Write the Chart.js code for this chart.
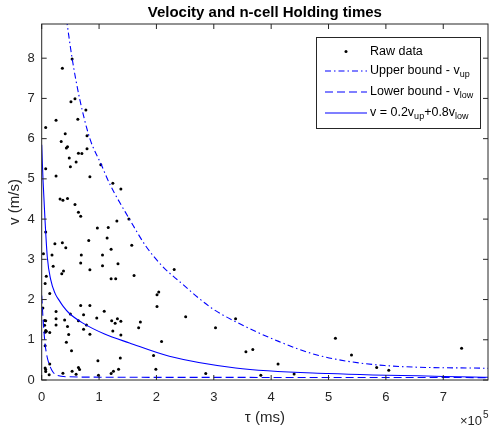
<!DOCTYPE html>
<html>
<head>
<meta charset="utf-8">
<script src="https://cdn.jsdelivr.net/npm/chart.js@4"></script>
<style>
  body { margin: 0; background: #fff; }
  #wrap { width: 492px; height: 427px; }
</style>
</head>
<body>
<div id="wrap"><canvas id="velChart" width="492" height="427"></canvas></div>
<script>
// tau is given in units of 10^5 ms (the axis multiplier shown bottom right)
const rawTau = [0.53,0.36,0.51,0.58,0.77,0.63,0.25,0.07,0.41,0.79,0.34,0.45,0.43,0.79,0.64,0.70,0.48,0.60,0.50,0.07,
  1.03,0.25,0.84,1.24,1.38,0.32,0.37,0.45,0.58,0.64,0.68,1.31,1.52,0.97,1.16,0.07,0.82,1.14,0.23,0.36,
  0.42,1.21,1.57,0.03,0.18,0.69,1.06,0.68,1.33,0.20,1.06,0.84,0.38,0.35,2.31,0.08,1.61,1.21,1.29,0.06,
  2.04,2.01,0.14,0.02,0.68,0.84,2.01,0.25,0.25,0.25,0.05,0.07,0.05,0.07,0.06,0.14,0.40,0.50,0.73,0.64,
  0.78,0.73,0.84,0.45,0.47,0.43,0.52,0.96,1.09,1.22,1.28,1.32,1.38,1.24,1.38,1.72,1.69,2.09,0.06,0.14,
  0.07,0.07,0.13,0.37,0.53,0.64,0.66,0.60,0.98,0.99,1.21,1.25,1.34,1.37,1.95,1.99,2.51,3.38,3.03,3.56,
  3.68,4.12,2.86,3.82,4.40,5.12,5.40,7.32,5.84,6.05,0.06,0.08];
const rawV = [7.98,7.75,6.92,6.99,6.71,6.48,6.46,6.28,6.12,6.07,5.93,5.80,5.77,5.75,5.64,5.63,5.52,5.42,5.30,5.25,
  5.35,5.07,5.05,4.89,4.75,4.50,4.47,4.51,4.36,4.17,4.07,3.95,4.00,3.78,3.79,3.68,3.47,3.53,3.39,3.41,
  3.29,3.25,3.35,3.14,3.11,3.11,3.11,2.91,2.89,2.83,2.84,2.74,2.71,2.64,2.75,2.58,2.60,2.52,2.52,2.40,
  2.19,2.12,2.15,1.79,1.85,1.85,1.83,1.70,1.52,1.37,1.48,1.47,1.36,1.23,1.19,1.18,1.49,1.64,1.62,1.47,
  1.37,1.26,1.14,1.33,1.13,0.94,0.73,1.54,1.71,1.47,1.41,1.52,1.46,1.22,1.12,1.44,1.30,0.96,0.85,0.40,
  0.26,0.21,0.13,0.17,0.22,0.31,0.26,0.14,0.48,0.12,0.16,0.22,0.27,0.55,0.61,0.27,1.57,1.52,1.30,0.70,
  0.76,0.40,0.16,0.12,0.15,1.04,0.62,0.79,0.31,0.24,0.30,1.21];

const upTau = [0.40,0.53,0.66,0.84,1.04,1.18,1.53,1.82,2.11,2.40,2.96,3.38,4.13,4.83,5.98,7.78];
const upV   = [9.30,8.00,7.00,6.00,5.35,4.89,4.00,3.32,2.82,2.45,1.79,1.45,0.96,0.61,0.36,0.29];

const lowTau = [0,0.028,0.057,0.092,0.12,0.19,0.28,0.47,1.0,3.0,7.78];
const lowV   = [2.10,1.42,0.92,0.59,0.44,0.21,0.11,0.08,0.07,0.065,0.06];

const mixTau = [0,0.01,0.023,0.057,0.098,0.156,0.231,0.305,0.375,0.479,0.711,1.086,1.53,2.225,3.38,5.0,7.78];
const mixV   = [5.85,5.45,4.97,4.00,3.05,2.50,2.16,1.98,1.83,1.66,1.42,1.15,0.92,0.59,0.30,0.16,0.07];

const xTicks = [0,1,2,3,4,5,6,7];
const yTicks = [0,1,2,3,4,5,6,7,8];

const FONT = '"Liberation Sans", Arial, sans-serif';
const INK = '#262626';
const BLUE = '#0000ff';
const DASHDOT = [6, 3, 1.5, 3];
const DASHED = [8, 4];

const pts = (xs, ys) => xs.map((x, i) => ({x: x, y: ys[i]}));

const frame = {
  id: 'frame',
  afterDraw(chart) {
    const {ctx, chartArea: a, scales} = chart;
    ctx.save();
    // box + inward ticks
    ctx.strokeStyle = INK;
    ctx.lineWidth = 1;
    ctx.strokeRect(a.left, a.top, a.right - a.left, a.bottom - a.top);
    ctx.beginPath();
    xTicks.forEach(t => {
      const px = scales.x.getPixelForValue(t);
      ctx.moveTo(px, a.bottom); ctx.lineTo(px, a.bottom - 5);
      ctx.moveTo(px, a.top); ctx.lineTo(px, a.top + 5);
    });
    yTicks.forEach(t => {
      const py = scales.y.getPixelForValue(t);
      ctx.moveTo(a.left, py); ctx.lineTo(a.left + 5, py);
      ctx.moveTo(a.right, py); ctx.lineTo(a.right - 5, py);
    });
    ctx.stroke();

    // title, centred over the axes
    ctx.fillStyle = '#000';
    ctx.font = 'bold 15px ' + FONT;
    ctx.textAlign = 'center';
    ctx.textBaseline = 'middle';
    ctx.fillText('Velocity and n-cell Holding times', (a.left + a.right) / 2, 13);

    // x multiplier
    ctx.fillStyle = INK;
    ctx.textAlign = 'left';
    ctx.font = '13px ' + FONT;
    ctx.fillText('\u00d710', 460, 421);
    ctx.font = '10px ' + FONT;
    ctx.fillText('5', 483, 415);

    // legend
    const L = {x: 316.5, y: 37.5, w: 164, h: 91};
    ctx.fillStyle = '#fff';
    ctx.fillRect(L.x, L.y, L.w, L.h);
    ctx.strokeStyle = INK;
    ctx.strokeRect(L.x, L.y, L.w, L.h);
    const rows = [51.5, 71, 92, 113];
    const sx0 = 325, sx1 = 367, tx = 370;
    ctx.fillStyle = '#000';
    ctx.beginPath(); ctx.arc(346, rows[0], 1.5, 0, Math.PI * 2); ctx.fill();
    ctx.strokeStyle = BLUE;
    ctx.lineWidth = 1.1;
    [DASHDOT, DASHED, []].forEach((d, i) => {
      ctx.setLineDash(d);
      ctx.beginPath(); ctx.moveTo(sx0, rows[i + 1]); ctx.lineTo(sx1, rows[i + 1]); ctx.stroke();
    });
    ctx.setLineDash([]);
    const big = '12.5px ' + FONT, small = '9px ' + FONT;
    const write = (parts, y) => {
      let x = tx;
      parts.forEach(([s, sub]) => {
        ctx.font = sub ? small : big;
        ctx.fillText(s, x, sub ? y + 4 : y);
        x += ctx.measureText(s).width;
      });
    };
    ctx.fillStyle = '#000';
    write([['Raw data']], rows[0]);
    write([['Upper bound - v'], ['up', 1]], rows[1]);
    write([['Lower bound - v'], ['low', 1]], rows[2]);
    write([['v = 0.2v'], ['up', 1], ['+0.8v'], ['low', 1]], rows[3]);
    ctx.restore();
  }
};

const lineSet = (label, xs, ys, dash) => ({
  label: label,
  data: pts(xs, ys),
  showLine: true,
  borderColor: BLUE,
  borderWidth: 1.1,
  borderDash: dash,
  pointRadius: 0,
  cubicInterpolationMode: 'monotone',
  order: 1
});

new Chart(document.getElementById('velChart').getContext('2d'), {
  type: 'scatter',
  data: {
    datasets: [
      {
        label: 'Raw data',
        data: pts(rawTau, rawV),
        backgroundColor: '#000',
        borderWidth: 0,
        pointRadius: 1.5,
        order: 2
      },
      lineSet('Upper bound', upTau, upV, DASHDOT),
      lineSet('Lower bound', lowTau, lowV, DASHED),
      lineSet('v = 0.2v_up + 0.8v_low', mixTau, mixV, [])
    ]
  },
  options: {
    responsive: false,
    animation: false,
    layout: {padding: {top: 24, right: 2, left: 0, bottom: 0}},
    plugins: {legend: {display: false}, tooltip: {enabled: false}},
    scales: {
      x: {
        type: 'linear', min: 0, max: 7.78,
        grid: {display: false, drawTicks: false},
        border: {display: false},
        afterBuildTicks: s => { s.ticks = xTicks.map(v => ({value: v})); },
        afterFit: s => { s.height = 47; },
        ticks: {color: INK, font: {family: FONT, size: 13}, padding: 10, maxRotation: 0},
        title: {display: true, text: '\u03c4 (ms)', color: INK, font: {family: FONT, size: 15}, padding: {top: 0, bottom: 0}}
      },
      y: {
        type: 'linear', min: 0, max: 8.85,
        grid: {display: false, drawTicks: false},
        border: {display: false},
        afterBuildTicks: s => { s.ticks = yTicks.map(v => ({value: v})); },
        afterFit: s => { s.width = 41.7; },
        ticks: {color: INK, font: {family: FONT, size: 13}, padding: 7},
        title: {display: true, text: 'v (m/s)', color: INK, font: {family: FONT, size: 15}, padding: {top: 6, bottom: 0}}
      }
    }
  },
  plugins: [frame]
});
</script>
</body>
</html>
